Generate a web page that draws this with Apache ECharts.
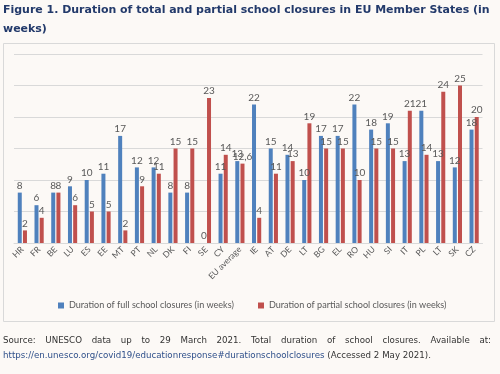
<!DOCTYPE html>
<html><head><meta charset="utf-8">
<script src="https://cdn.jsdelivr.net/npm/echarts@6/dist/echarts.min.js"></script>
<style>html,body{margin:0;padding:0;background:#fcf9f6;}#c{width:500px;height:374px;}</style>
</head><body><div id="c"></div>
<script>
const categories = ['HR','FR','BE','LU','ES','EE','MT','PT','NL','DK','FI','SE','CY','EU average','IE','AT','DE','LT','BG','EL','RO','HU','SI','IT','PL','LT','SK','CZ'];
const fullClosures = [8,6,8,9,10,11,17,12,12,8,8,0,11,13,22,15,14,10,17,17,22,18,19,13,21,13,12,18];
const partialClosures = [2,4,8,6,5,5,2,9,11,15,15,23,14,12.6,4,11,13,19,15,15,10,15,15,21,14,24,25,20];
const seriesNames = ['Duration of full school closures (in weeks)','Duration of partial school closures (in weeks)'];
const titleLine1 = 'Figure 1. Duration of total and partial school closures in EU Member States (in';
const titleLine2 = 'weeks)';
const sourceLine1 = 'Source: UNESCO data up to 29 March 2021. Total duration of school closures. Available at:';
const sourceLink = 'https://en.unesco.org/covid19/educationresponse#durationschoolclosures';
const sourceTail = ' (Accessed 2 May 2021).';

const cv = document.createElement('canvas').getContext('2d');
function fitSize(text, weight, family, target){
  cv.font = weight + ' 10px ' + family;
  return 10 * target / cv.measureText(text).width;
}
const titleSize = fitSize(titleLine1,'bold','"DejaVu Sans"',487);
const srcSize = fitSize(sourceLink + sourceTail,'normal','"DejaVu Sans"',428);
const legSize = fitSize(seriesNames[0],'normal','Lato',165);

const srcFont = srcSize.toFixed(2) + 'px "DejaVu Sans"';
cv.font = srcFont;
const words = sourceLine1.split(' ');
const lineL = 3, lineR = 491;
const wsum = words.reduce((a,w)=>a+cv.measureText(w).width,0);
const gap = (lineR-lineL-wsum)/(words.length-1);
const srcGraphics = [];
let xx = lineL;
words.forEach(w=>{
  srcGraphics.push({type:'text',left:xx,top:336,style:{text:w,font:srcFont,fill:'#333333'}});
  xx += cv.measureText(w).width + gap;
});
const linkW = cv.measureText(sourceLink).width;
srcGraphics.push({type:'text',left:lineL,top:351,style:{text:sourceLink,font:srcFont,fill:'#2e4f8a'}});
srcGraphics.push({type:'text',left:lineL+linkW,top:351,style:{text:sourceTail,font:srcFont,fill:'#333333'}});

const chart = echarts.init(document.getElementById('c'));
const lbl = {show:true,position:'top',distance:2,color:'#595959',fontFamily:'Lato',fontSize:10,
  formatter:p=>String(p.value).replace('.',',')};
const legText = {fontFamily:'Lato',fontSize:legSize,color:'#595959'};
chart.setOption({
  backgroundColor:'#fcf9f6',
  animation:false,
  title:{text:titleLine1 + '\n' + titleLine2,left:3,top:0,padding:0,textStyle:{fontFamily:'DejaVu Sans',fontWeight:'bold',fontSize:titleSize,color:'#233a6b',lineHeight:19.5}},
  graphic:[{type:'rect',shape:{x:3.5,y:43.5,width:491,height:278},style:{fill:'none',stroke:'#d9d9d9',lineWidth:1}}].concat(srcGraphics),
  legend:[
    {data:[seriesNames[0]],left:58,top:301,padding:0,itemWidth:6,itemHeight:6,icon:'rect',itemGap:0,textStyle:legText},
    {data:[seriesNames[1]],left:258,top:301,padding:0,itemWidth:6,itemHeight:6,icon:'rect',itemGap:0,textStyle:legText}
  ],
  grid:{left:14,right:17.5,top:54,bottom:131,containLabel:false},
  xAxis:{type:'category',data:categories,axisLine:{lineStyle:{color:'#d9d9d9'}},axisTick:{show:false},
    axisLabel:{rotate:45,interval:0,fontFamily:'Lato',fontSize:8.5,color:'#595959',margin:5}},
  yAxis:{type:'value',min:0,max:30,interval:5,axisLabel:{show:false},axisLine:{show:false},axisTick:{show:false},
    splitLine:{lineStyle:{color:'#d9d9d9'}}},
  series:[
    {name:seriesNames[0],type:'bar',data:fullClosures,barWidth:4,barGap:'30%',itemStyle:{color:'#4f81bd'},label:lbl},
    {name:seriesNames[1],type:'bar',data:partialClosures,barWidth:4,itemStyle:{color:'#c0504d'},label:lbl}
  ]
});
</script></body></html>
